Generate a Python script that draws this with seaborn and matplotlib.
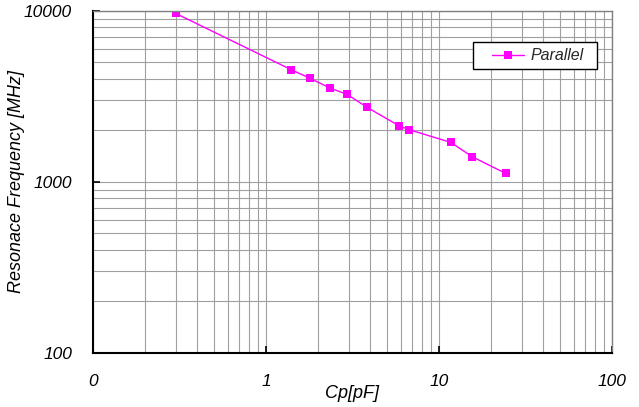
import matplotlib
matplotlib.use("Agg")
import matplotlib.pyplot as plt
import seaborn as sns
import pandas as pd
from matplotlib.legend_handler import HandlerLine2D
from matplotlib.lines import Line2D

# ---- data ----
cp_pf = [0.3, 1.4, 1.8, 2.35, 2.95, 3.85, 5.9, 6.7, 11.7, 15.6, 24.3]
freq_mhz = [9650, 4520, 4020, 3530, 3240, 2720, 2120, 2020, 1700, 1400, 1120]
series_name = "Parallel"
xtick_values = [0.1, 1, 10, 100]
xtick_labels = ["0", "1", "10", "100"]
ytick_values = [100, 1000, 10000]
ytick_labels = ["100", "1000", "10000"]
x_title = "Cp[pF]"
y_title = "Resonace Frequency [MHz]"

sns.set_theme(style="white")
plt.rcParams["font.family"] = ["Liberation Sans", "DejaVu Sans"]
plt.rcParams["font.style"] = "italic"

df = pd.DataFrame({"Cp": cp_pf, "Freq": freq_mhz, "series": series_name})

fig = plt.figure(figsize=(6.39, 4.07), dpi=100)
fig.patch.set_facecolor("white")
ax = fig.add_axes([93 / 639, 1 - 353 / 407, (612 - 93) / 639, (353 - 10.7) / 407])
ax.set_facecolor("white")
ax.set_xscale("log")
ax.set_yscale("log")

sns.lineplot(data=df, x="Cp", y="Freq", ax=ax, color="#ff00ff", lw=1.0,
             marker="s", markersize=5.5, markeredgewidth=0, label=series_name,
             sort=False, legend=False)

ax.set_xlim(0.1, 100)
ax.set_ylim(100, 10000)
ax.grid(which="both", color="#a0a0a0", lw=0.8)
ax.set_axisbelow(True)

ax.set_xticks(xtick_values, labels=xtick_labels)
ax.set_yticks(ytick_values, labels=ytick_labels)
ax.tick_params(which="major", direction="in", length=5, width=1.2, color="black",
               labelsize=12.5, labelcolor="black")
ax.tick_params(axis="y", which="major", pad=15)
ax.tick_params(axis="x", which="major", pad=15)
ax.tick_params(which="minor", length=0)
ax.tick_params(left=True, bottom=True)

for side in ["left", "bottom"]:
    ax.spines[side].set_color("black")
    ax.spines[side].set_linewidth(1.5)
for side in ["top", "right"]:
    ax.spines[side].set_color("#808080")
    ax.spines[side].set_linewidth(1.0)

ax.set_xlabel(x_title, fontsize=13, color="black")
ax.set_ylabel(y_title, fontsize=13, color="black")
ax.xaxis.set_label_coords(0.5, -(385 - 353) / 342.3)
ax.yaxis.set_label_coords((25 - 93) / 519, 0.5)

handle = Line2D([], [], color="#ff00ff", lw=1.0, marker="s", markersize=5.5,
                markeredgewidth=0)
x0 = (473 - 93) / 519
x1 = (597 - 93) / 519
ytop = 1 - (42.3 - 10.7) / 342.3
ybot = 1 - (71.3 - 10.7) / 342.3
leg = ax.legend([handle], [series_name], loc="upper left",
                bbox_to_anchor=(x0, ybot, x1 - x0, ytop - ybot), mode="expand",
                borderaxespad=0, fontsize=11.5, frameon=True, fancybox=False,
                edgecolor="black", framealpha=1, borderpad=0.38,
                handlelength=2.8, handletextpad=0.4,
                handler_map={Line2D: HandlerLine2D(numpoints=1, xpad=0.8)})
leg.get_frame().set_linewidth(1.0)

fig.savefig("out.png", dpi=100, facecolor="white")
